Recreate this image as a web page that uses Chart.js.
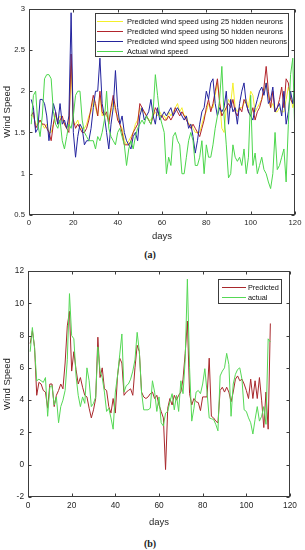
<!DOCTYPE html>
<html>
<head>
<meta charset="utf-8">
<script src="https://cdn.jsdelivr.net/npm/chart.js@4.4.1/dist/chart.umd.min.js"></script>
<style>
  html, body { margin: 0; padding: 0; background: #fff; }
  #wrap { position: relative; width: 305px; height: 550px; overflow: hidden; }
  canvas { position: absolute; left: 0; }
  #chartA { top: 0; width: 305px; height: 245px; }
  #chartB { top: 262px; width: 305px; height: 270px; }
  .cap { position: absolute; left: 0; width: 300px; text-align: center;
         font-family: "Liberation Serif", serif; font-weight: bold; font-size: 10px; color: #222; }
</style>
</head>
<body>
<div id="wrap">
  <canvas id="chartA" width="305" height="245"></canvas>
  <div class="cap" style="top:249px">(a)</div>
  <canvas id="chartB" width="305" height="270"></canvas>
  <div class="cap" style="top:538px">(b)</div>
</div>
<script>
// ---- (a) wind speed, days 1..120 ----
const labelsA = [
  'Predicted wind speed using 25 hidden neurons',
  'Predicted wind speed using 50 hidden neurons',
  'Predicted wind speed using 500 hidden neurons',
  'Actual wind speed'
];
const pred25 = [
  1.7,1.7,1.6,1.6,1.65,1.6,1.55,1.6,1.5,1.5,
  1.6,1.7,1.65,1.7,1.65,1.6,1.55,1.6,2.3,1.6,
  1.6,1.65,1.55,1.55,1.55,1.6,1.7,1.75,1.9,1.8,
  1.7,1.95,1.7,1.75,1.7,1.65,1.75,1.9,1.75,1.7,
  1.6,1.55,1.4,1.35,1.4,1.45,1.5,1.6,1.65,1.8,
  1.75,1.75,1.7,1.65,1.65,1.7,1.75,1.7,1.75,1.7,
  1.7,1.65,1.75,1.7,1.75,1.8,1.85,1.75,1.8,1.7,
  1.7,1.6,1.6,1.55,1.5,1.5,1.5,1.6,1.7,1.75,
  1.85,1.8,1.8,1.95,2.1,1.9,1.55,1.5,1.8,1.9,
  1.85,2.1,1.8,1.75,1.8,1.8,1.85,1.9,1.8,2.0,
  1.95,1.75,1.8,1.85,1.9,2.0,2.1,1.95,1.8,1.85,
  1.75,1.75,1.8,1.75,1.75,1.9,2.05,1.95,1.8,1.9
];
const pred50 = [
  1.7,1.75,1.55,1.6,1.65,1.6,1.6,1.55,1.5,1.4,
  1.6,1.75,1.6,1.65,1.7,1.6,1.55,1.5,2.45,1.65,
  1.55,1.6,1.55,1.5,1.5,1.55,1.65,1.8,1.95,1.85,
  1.7,2.0,1.75,1.7,1.75,1.6,1.8,1.95,1.8,1.65,
  1.6,1.5,1.35,1.35,1.35,1.4,1.5,1.55,1.6,1.85,
  1.8,1.75,1.7,1.65,1.6,1.7,1.8,1.75,1.7,1.7,
  1.65,1.65,1.7,1.65,1.7,1.8,1.75,1.7,1.75,1.7,
  1.65,1.6,1.55,1.6,1.55,1.5,1.45,1.55,1.65,1.8,
  1.9,1.75,1.85,2.0,2.15,1.85,1.7,1.75,1.8,1.85,
  1.8,1.9,1.75,1.7,1.8,1.75,1.9,1.85,1.75,1.7,
  1.8,1.65,1.75,1.8,1.9,2.05,2.3,2.0,1.8,2.0,
  1.75,1.8,1.9,2.05,1.8,2.15,2.1,1.9,1.85,2.0
];
const pred500 = [
  1.9,1.8,1.5,1.55,1.9,1.9,1.85,1.7,1.4,1.6,
  1.85,1.75,1.6,1.85,1.6,1.65,1.55,1.7,2.95,1.5,
  1.2,1.45,1.6,1.55,1.35,1.4,1.4,1.55,1.8,2.0,
  2.0,2.4,1.85,1.7,1.5,1.3,1.6,1.8,2.25,1.8,
  1.6,1.7,1.5,1.4,1.35,1.3,1.45,1.5,1.4,1.7,
  1.8,1.65,1.7,1.75,1.9,1.7,1.6,1.8,1.65,1.7,
  1.75,1.7,1.75,1.8,1.7,1.75,1.8,1.75,1.7,1.65,
  1.7,1.55,1.6,1.45,1.25,1.4,1.6,1.75,1.8,2.0,
  1.9,2.1,2.15,1.85,1.7,1.8,1.75,1.8,2.0,1.6,
  1.9,1.75,1.8,1.6,1.85,2.0,2.1,1.85,1.75,1.7,
  1.65,1.8,1.9,2.0,2.05,1.95,2.1,1.85,1.9,2.05,
  1.75,1.8,1.85,1.7,2.0,1.6,1.75,2.0,1.85,2.1
];
const actualA = [
  1.6,1.95,2.0,1.6,1.45,1.7,2.15,2.2,2.2,2.15,
  1.75,1.6,1.55,1.65,1.4,1.3,1.45,1.6,1.55,1.7,
  1.95,2.0,2.0,1.65,1.5,1.45,1.4,1.4,1.4,1.3,
  1.45,1.4,1.5,1.65,2.0,1.55,1.45,1.4,1.35,1.5,
  1.55,1.45,1.35,1.1,1.3,1.4,1.3,1.45,1.55,1.6,
  1.65,1.6,1.7,1.65,1.6,1.75,2.2,1.95,1.7,1.6,
  1.5,1.0,1.2,1.1,1.45,1.5,1.4,1.35,1.0,1.0,
  1.2,1.4,1.5,1.4,1.1,1.1,1.2,1.4,1.0,1.35,
  1.2,1.2,1.35,1.55,1.7,1.9,2.3,1.7,1.35,0.95,
  1.0,1.35,1.2,1.15,1.2,1.1,1.3,1.0,1.2,1.95,
  1.1,1.25,1.0,1.1,1.2,1.05,1.0,0.9,0.82,1.0,
  1.5,1.05,1.1,1.2,1.3,0.9,1.6,2.2,2.4,1.4
];

// ---- (b) predicted vs actual, days 1..111 ----
const labelsB = ['Predicted', 'actual'];
const predictedB = [
  7.5,8.3,7.3,4.3,5.1,5.0,4.6,4.5,3.5,5.0,
  5.0,3.6,4.3,4.6,5.0,4.7,6.3,8.6,9.5,5.8,
  7.0,5.9,5.0,5.4,4.8,4.3,4.2,3.5,2.9,3.4,
  4.1,7.9,5.4,6.0,4.7,4.6,3.6,3.2,4.1,3.2,
  5.5,6.6,6.3,4.3,4.5,4.6,4.7,4.3,6.0,7.4,
  7.0,4.5,4.2,4.1,4.2,4.4,4.5,4.1,4.3,3.7,
  3.3,2.9,-0.3,3.5,4.1,3.7,4.3,4.0,4.3,4.5,
  5.3,6.9,8.9,4.4,3.7,4.1,3.9,3.85,3.35,4.2,
  4.2,4.2,6.6,3.0,2.9,2.7,2.6,4.6,4.8,4.5,
  4.8,4.5,3.9,4.5,5.3,5.5,5.2,5.3,5.0,4.6,
  4.1,5.3,4.1,5.2,4.1,5.4,4.0,2.3,4.5,2.2,8.75
];
const actualB = [
  7.0,8.5,7.2,5.2,5.3,5.2,5.1,5.4,3.0,4.8,
  4.9,3.7,4.2,2.6,3.6,4.0,4.6,6.5,10.6,8.0,
  7.8,5.5,4.3,3.6,4.2,3.8,6.0,5.2,3.6,3.8,
  4.2,7.3,5.8,5.4,4.5,3.3,3.5,2.9,2.2,4.5,
  5.5,6.8,8.1,4.5,4.9,5.0,5.3,5.8,6.5,8.2,
  7.0,4.5,3.4,3.4,3.4,3.5,5.2,4.5,3.3,4.2,
  2.6,2.4,3.2,3.3,3.9,4.4,3.4,4.3,3.3,5.2,
  4.4,6.5,11.5,6.0,2.7,3.5,4.5,4.6,4.4,5.0,
  5.95,4.5,2.9,2.85,2.8,2.5,2.1,5.5,5.8,6.0,
  6.9,6.2,3.0,5.0,5.6,5.9,6.0,5.3,3.4,3.3,
  2.9,2.6,1.9,2.8,3.6,2.7,3.0,3.6,2.5,7.8,7.6
];

const FONT = '"Liberation Sans", Arial, sans-serif';
const INK = '#262626';

function pts(values) {
  return values.map((v, i) => ({ x: i + 1, y: v }));
}

// MATLAB-like box with inward ticks on all four sides, plus an in-plot legend
const matlabBox = {
  id: 'matlabBox',
  afterDatasetsDraw(chart, args, opts) {
    const { ctx, chartArea: a, scales } = chart;
    const L = Math.round(a.left) + 0.5, R = Math.round(a.right) - 0.5;
    const T = Math.round(a.top) + 0.5, B = Math.round(a.bottom) - 0.5;
    ctx.save();
    ctx.strokeStyle = '#3c3c3c';
    ctx.lineWidth = 1;
    ctx.strokeRect(L, T, R - L, B - T);
    ctx.beginPath();
    scales.x.ticks.forEach(t => {
      const px = Math.round(scales.x.getPixelForValue(t.value)) + 0.5;
      ctx.moveTo(px, B); ctx.lineTo(px, B - 3);
      ctx.moveTo(px, T); ctx.lineTo(px, T + 3);
    });
    scales.y.ticks.forEach(t => {
      const py = Math.round(scales.y.getPixelForValue(t.value)) + 0.5;
      ctx.moveTo(L, py); ctx.lineTo(L + 3, py);
      ctx.moveTo(R, py); ctx.lineTo(R - 3, py);
    });
    ctx.stroke();

    const lg = opts.legend;
    if (lg) {
      ctx.fillStyle = '#fff';
      ctx.fillRect(lg.left, lg.top, lg.right - lg.left, lg.bottom - lg.top);
      ctx.strokeStyle = '#3c3c3c';
      ctx.strokeRect(lg.left + 0.5, lg.top + 0.5, lg.right - lg.left, lg.bottom - lg.top);
      ctx.font = lg.font;
      ctx.textBaseline = 'middle';
      ctx.textAlign = 'left';
      chart.data.datasets.forEach((ds, i) => {
        const y = Math.round(lg.rowTop + i * lg.rowStep) + 0.5;
        ctx.strokeStyle = ds.borderColor;
        ctx.beginPath();
        ctx.moveTo(lg.lineX0, y); ctx.lineTo(lg.lineX1, y);
        ctx.stroke();
        ctx.fillStyle = '#111';
        ctx.fillText(ds.label, lg.textX, y);
      });
    }
    ctx.restore();
  }
};

function makeOptions(cfg) {
  return {
    responsive: false,
    animation: false,
    layout: { padding: cfg.padding },
    plugins: {
      legend: { display: false },
      tooltip: { enabled: false },
      matlabBox: { legend: cfg.legend }
    },
    elements: { point: { radius: 0 }, line: { borderWidth: 1, tension: 0 } },
    scales: {
      x: {
        type: 'linear', min: 0, max: 120,
        grid: { display: false, drawTicks: false },
        border: { display: false },
        ticks: { stepSize: 20, padding: cfg.xPad, color: INK, font: { family: FONT, size: cfg.tickSize } },
        title: { display: true, text: 'days', color: INK, padding: { top: 0, bottom: cfg.xTitlePad },
                 font: { family: FONT, size: 9.5 } },
        afterFit: s => { s.height = cfg.xHeight; }
      },
      y: {
        min: cfg.yMin, max: cfg.yMax,
        grid: { display: false, drawTicks: false },
        border: { display: false },
        ticks: { stepSize: cfg.yStep, padding: 4, color: INK, font: { family: FONT, size: cfg.tickSize },
                 callback: v => String(Math.round(v * 10) / 10) },
        title: { display: true, text: 'Wind Speed', color: INK, padding: { top: 2, bottom: 0 },
                 font: { family: FONT, size: 9.5 } },
        afterFit: s => { s.width = cfg.yWidth; }
      }
    }
  };
}

new Chart(document.getElementById('chartA'), {
  type: 'line',
  data: {
    datasets: [
      { label: labelsA[0], data: pts(pred25), borderColor: '#f4ef2a', order: 3 },
      { label: labelsA[1], data: pts(pred50), borderColor: '#b2242c', order: 2 },
      { label: labelsA[2], data: pts(pred500), borderColor: '#24249e', order: 1 },
      { label: labelsA[3], data: pts(actualA), borderColor: '#4cd64c', order: 0 }
    ]
  },
  options: makeOptions({
    padding: { top: 5, right: 10, bottom: 0, left: 0 },
    yMin: 0.5, yMax: 3, yStep: 0.5, tickSize: 7.7,
    xPad: 3, xHeight: 30, xTitlePad: 3, yWidth: 29,
    legend: { left: 95, top: 13, right: 288, bottom: 56, rowTop: 20.5, rowStep: 10.3,
              lineX0: 97, lineX1: 123, textX: 127, font: '7.5px ' + FONT }
  }),
  plugins: [matlabBox]
});

new Chart(document.getElementById('chartB'), {
  type: 'line',
  data: {
    datasets: [
      { label: labelsB[0], data: pts(predictedB), borderColor: '#a8282c', order: 1 },
      { label: labelsB[1], data: pts(actualB), borderColor: '#55d855', order: 0 }
    ]
  },
  options: makeOptions({
    padding: { top: 9, right: 15, bottom: 0, left: 0 },
    yMin: -2, yMax: 12, yStep: 2, tickSize: 8.3,
    xPad: 4, xHeight: 35, xTitlePad: 4, yWidth: 28,
    legend: { left: 218, top: 17, right: 281, bottom: 41, rowTop: 24.7, rowStep: 10.6,
              lineX0: 222, lineX1: 246, textX: 248, font: '7.3px ' + FONT }
  }),
  plugins: [matlabBox]
});
</script>
</body>
</html>
